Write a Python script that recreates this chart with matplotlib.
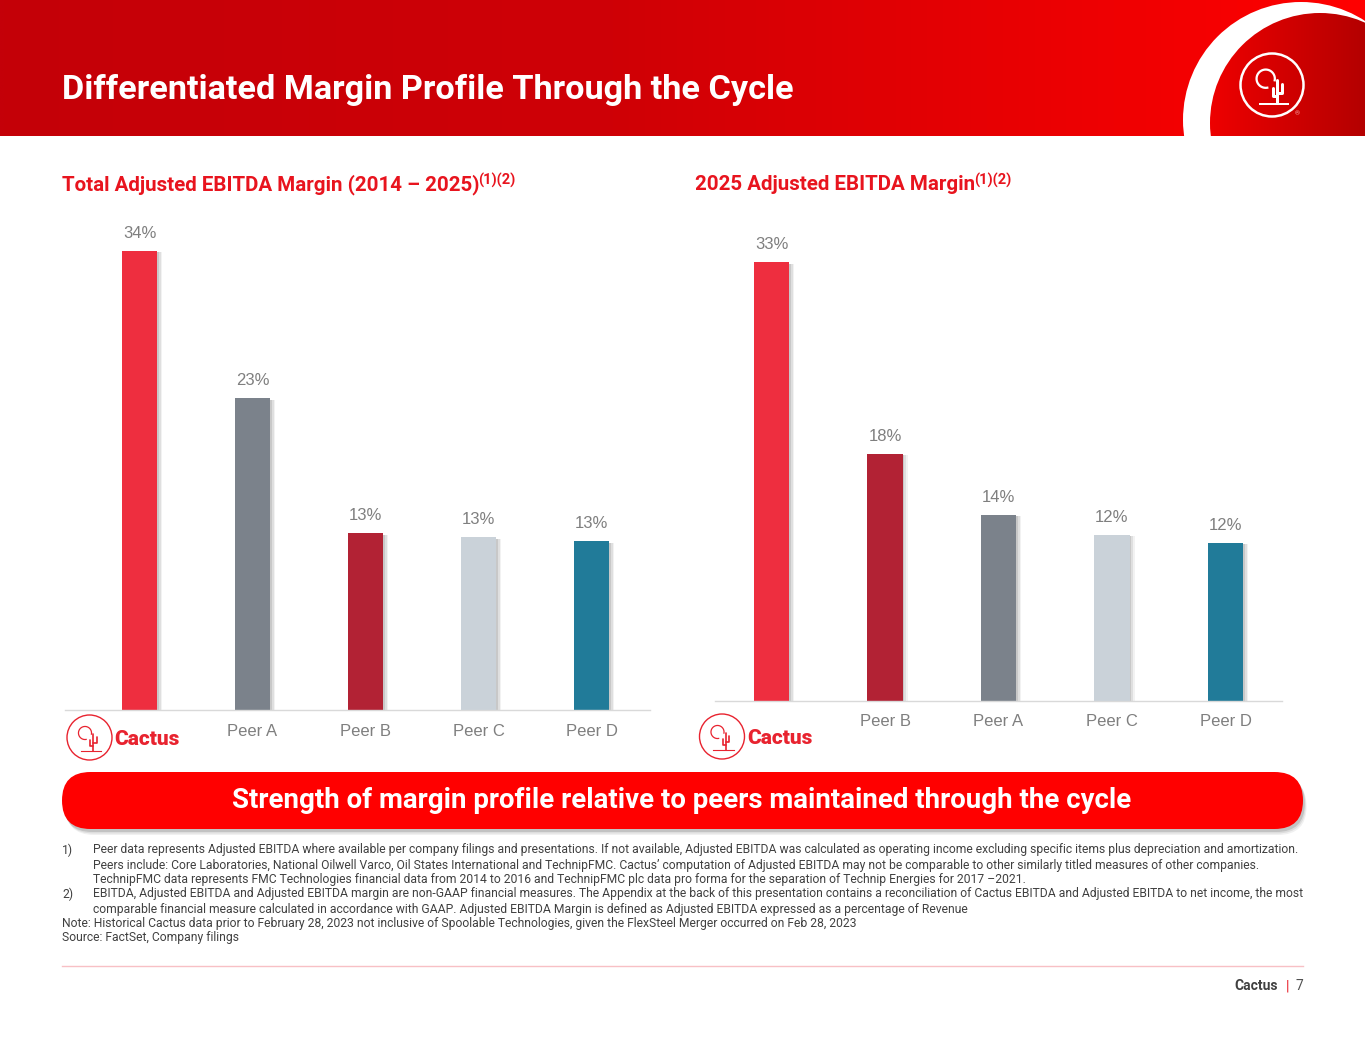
import numpy as np
import matplotlib
matplotlib.use('Agg')
import matplotlib.pyplot as plt
from matplotlib.patches import Circle, Rectangle, FancyBboxPatch
from matplotlib.colors import LinearSegmentedColormap

plt.rcParams['font.family'] = ['Roboto', 'DejaVu Sans']

W, H = 1365, 1055

# chart data
total_names = ['Cactus', 'Peer A', 'Peer B', 'Peer C', 'Peer D']
total_vals = [34.0, 23.1, 13.1, 12.8, 12.5]
total_labels = ['34%', '23%', '13%', '13%', '13%']

y25_names = ['Cactus', 'Peer B', 'Peer A', 'Peer C', 'Peer D']
y25_vals = [32.5, 18.3, 13.8, 12.3, 11.7]
y25_labels = ['33%', '18%', '14%', '12%', '12%']

bar_colors = {'Cactus': '#EE2E3F', 'Peer A': '#7B828B', 'Peer B': '#B22234',
              'Peer C': '#CAD2D9', 'Peer D': '#217B99'}

RED = '#E8141E'
GREY_TXT = '#7F7F7F'
ARIAL = ['Liberation Sans', 'DejaVu Sans']

footnotes = [
    ('1)', 'Peer data represents Adjusted EBITDA where available per company filings and presentations. If not available, Adjusted EBITDA was calculated as operating income excluding specific items plus depreciation and amortization.'),
    ('', 'Peers include: Core Laboratories, National Oilwell Varco, Oil States International and TechnipFMC. Cactus\u2019 computation of Adjusted EBITDA may not be comparable to other similarly titled measures of other companies.'),
    ('', 'TechnipFMC data represents FMC Technologies financial data from 2014 to 2016 and TechnipFMC plc data pro forma for the separation of Technip Energies for 2017 \u20132021.'),
    ('2)', 'EBITDA, Adjusted EBITDA and Adjusted EBITDA margin are non-GAAP financial measures. The Appendix at the back of this presentation contains a reconciliation of Cactus EBITDA and Adjusted EBITDA to net income, the most'),
    ('', 'comparable financial measure calculated in accordance with GAAP. Adjusted EBITDA Margin is defined as Adjusted EBITDA expressed as a percentage of Revenue'),
    (None, 'Note: Historical Cactus data prior to February 28, 2023 not inclusive of Spoolable Technologies, given the FlexSteel Merger occurred on Feb 28, 2023'),
    (None, 'Source: FactSet, Company filings'),
]

fig = plt.figure(figsize=(W / 100, H / 100), dpi=100)
fig.patch.set_facecolor('white')

bg = fig.add_axes([0, 0, 1, 1])
bg.set_xlim(0, W)
bg.set_ylim(H, 0)
bg.axis('off')

# header band with gradient
hdr_cmap = LinearSegmentedColormap.from_list('hdr', [(0, '#C40008'), (0.45, '#CF0006'), (1, '#FF0000')])
grad = np.linspace(0, 1, 512).reshape(1, -1)
bg.imshow(grad, extent=(0, W, 136, 0), aspect='auto', cmap=hdr_cmap, zorder=1)
clip_hdr = Rectangle((0, 0), W, 136, transform=bg.transData)
ring = Circle((1301, 120), 118, fc='white', ec='none', zorder=2)
bg.add_patch(ring)
ring.set_clip_path(clip_hdr)
inner = Circle((1320, 123), 110, fc='none', ec='none', transform=bg.transData)
in_cmap = LinearSegmentedColormap.from_list('inn', ['#F20000', '#B40000'])
im = bg.imshow(grad, extent=(1200, W, 136, 0), aspect='auto', cmap=in_cmap, zorder=3)
im.set_clip_path(inner)


def draw_icon(ax, cx, cy, R, color, lw):
    ax.add_patch(Circle((cx, cy), R, fill=False, ec=color, lw=lw, zorder=5))
    t = np.radians(np.linspace(-10, 280, 120))
    ax.plot(cx - 0.2 * R + 0.29 * R * np.cos(t), cy - 0.2 * R - 0.29 * R * np.sin(t),
            color=color, lw=lw * 0.9, zorder=5)
    tx = cx + 0.17 * R
    kw = dict(color=color, lw=lw * 1.2, zorder=5, solid_capstyle='round', solid_joinstyle='round')
    ax.plot([tx, tx], [cy - 0.15 * R, cy + 0.58 * R], **kw)
    ax.plot([tx, cx + 0.03 * R, cx + 0.03 * R], [cy + 0.36 * R, cy + 0.36 * R, cy + 0.1 * R], **kw)
    ax.plot([tx, cx + 0.32 * R, cx + 0.32 * R], [cy + 0.26 * R, cy + 0.26 * R, cy - 0.02 * R], **kw)
    ax.plot([cx - 0.38 * R, cx + 0.52 * R], [cy + 0.6 * R, cy + 0.6 * R], color=color, lw=lw * 0.8, zorder=5)


draw_icon(bg, 1272, 85, 31.5, 'white', 1.8)
bg.text(1297, 114, '\u00ae', color='#F8B0B0', fontsize=4.5, ha='center', va='center', zorder=6)

bg.text(62, 90, 'Differentiated Margin Profile Through the Cycle', color='white',
        fontsize=24.7, fontweight='bold', ha='left', va='center', zorder=6)

# subtitles with superscripts
sub1 = bg.text(62, 185, 'Total Adjusted EBITDA Margin (2014 \u2013 2025)', color=RED,
               fontsize=14.8, fontweight='bold', ha='left', va='center')
sub2 = bg.text(695, 185, '2025 Adjusted EBITDA Margin', color=RED,
               fontsize=14.8, fontweight='bold', ha='left', va='center')
fig.canvas.draw()
rend = fig.canvas.get_renderer()
for s in (sub1, sub2):
    bb = s.get_window_extent(rend)
    bg.text(bb.x1 - 1, 180, '(1)(2)', color=RED, fontsize=10.5, fontweight='bold',
            ha='left', va='center')


def bar_panel(names, vals, labels, x0, step, left, right, baseline, pad):
    top = baseline - 36 * 13.5
    ax = fig.add_axes([left / W, 1 - baseline / H, (right - left) / W, (baseline - top) / H])
    ax.set_facecolor('none')
    x = np.arange(len(vals))
    wdt = 35.5 / step
    cols = [bar_colors[n] for n in names]
    for d, a in [(0.015, 0.10), (0.03, 0.08), (0.045, 0.05)]:
        ax.bar(x + d, np.array(vals) - 0.1, wdt, color='black', alpha=a, zorder=1, lw=0)
    ax.bar(x, vals, wdt, color=cols, zorder=2, lw=0)
    for xi, v, lb in zip(x, vals, labels):
        ax.annotate(lb, (xi, v), xytext=(0, 12.5), textcoords='offset points',
                    ha='center', va='center', color=GREY_TXT, fontsize=12, family=ARIAL)
    ax.set_xlim((left - x0) / step, (right - x0) / step)
    ax.set_ylim(0, 36)
    ax.set_xticks(x, [''] + names[1:])
    ax.tick_params(axis='x', length=0, pad=pad, labelsize=12, labelcolor=GREY_TXT)
    for lab in ax.get_xticklabels():
        lab.set_family(ARIAL)
    ax.set_yticks([])
    for sp in ['top', 'left', 'right']:
        ax.spines[sp].set_visible(False)
    ax.spines['bottom'].set_color('#D9D9D9')
    ax.spines['bottom'].set_linewidth(1)
    return ax


bar_panel(total_names, total_vals, total_labels, 139.5, 113, 65, 650, 710, 10)
bar_panel(y25_names, y25_vals, y25_labels, 771.5, 113.5, 715, 1282, 701, 9.5)

# cactus logos under first bars
for cx, cy in [(89.5, 737.5), (722, 736.5)]:
    draw_icon(bg, cx, cy, 22.5, '#E8232F', 1.0)
    bg.text(cx + 25, cy + 2, 'Cactus', color='#E8232F', fontsize=15, fontweight='heavy',
            ha='left', va='center')

# banner
for off, a in [(6, 0.06), (4.5, 0.08), (3, 0.12)]:
    bg.add_patch(FancyBboxPatch((62 + off * 0.6, 772 + off), 1241, 57,
                                boxstyle='round,pad=0,rounding_size=28.5',
                                fc='black', ec='none', alpha=a, zorder=3))
bg.add_patch(FancyBboxPatch((62, 772), 1241, 57, boxstyle='round,pad=0,rounding_size=28.5',
                            fc='#FF0000', ec='none', zorder=4))
bg.text(682, 801, 'Strength of margin profile relative to peers maintained through the cycle',
        color='white', fontsize=19.9, fontweight='bold', ha='center', va='center', zorder=5)

# footnotes
ys = [850, 865, 880, 894, 909, 923, 937]
fn_size = 8.75
for (num, txt), y in zip(footnotes, ys):
    if num is None:
        bg.text(62, y, txt, fontsize=fn_size, color='#404040', ha='left', va='center')
    else:
        if num:
            bg.text(62, y, num, fontsize=fn_size, color='#404040', ha='left', va='center')
        bg.text(93, y, txt, fontsize=fn_size, color='#404040', ha='left', va='center')

# footer
bg.plot([62, 1303], [966, 966], color='#F8C0C5', lw=1)
bg.text(1278, 986, 'Cactus', color='#404040', fontsize=10, fontweight='bold', ha='right', va='center')
bg.text(1287, 986, '|', color=RED, fontsize=10, ha='center', va='center')
bg.text(1296, 986, '7', color='#505050', fontsize=10, ha='left', va='center')

fig.savefig('out.png', dpi=100, facecolor='white')
